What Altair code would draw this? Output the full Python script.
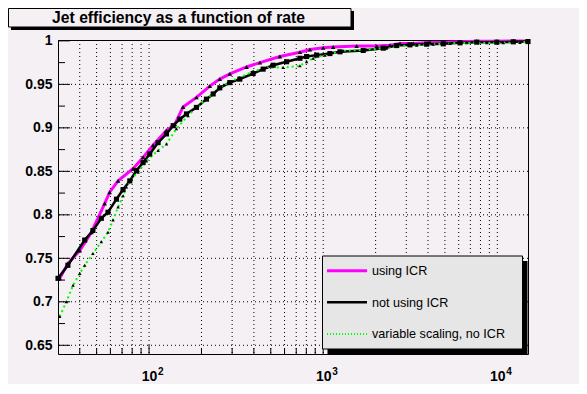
import altair as alt
import pandas as pd

FONT = "Liberation Sans"
BG = "#F4F0F4"
TITLE = "Jet efficiency as a function of rate"

# ---- data ----
x_icr = [30.7, 34.2, 40.0, 46.7, 55.6, 59.4, 66.4, 80.9, 92.4, 105.4, 125.9, 140.5, 156.8,
         187.1, 223.2, 254.8, 291, 363, 433, 564, 735, 839, 1000, 1141, 1556, 2028, 2418,
         2761, 3291, 4103, 4893, 6104, 7617, 9930, 12360, 15000]
eff_icr = [0.727, 0.744, 0.759, 0.780, 0.813, 0.826, 0.839, 0.853, 0.866, 0.880, 0.897, 0.904,
           0.924, 0.935, 0.948, 0.956, 0.962, 0.970, 0.975, 0.982, 0.987, 0.990, 0.992, 0.993,
           0.994, 0.994, 0.995, 0.997, 0.997, 0.998, 0.998, 0.999, 0.9995, 0.9997, 0.9998, 0.9999]

x_noicr = [30.0, 34.2, 42.7, 47.6, 53.2, 58.1, 65.0, 70.9, 77.5, 84.7, 92.4, 100.9, 112.7,
           125.9, 137.5, 150.1, 164.0, 187.1, 213.6, 233.4, 254.8, 291, 332, 396, 452, 516,
           616, 735, 803, 917, 1093, 1248, 1698, 2213, 2642, 3148, 3927, 4893, 6104, 7617,
           9930, 12360, 15000]
eff_noicr = [0.727, 0.742, 0.771, 0.782, 0.796, 0.803, 0.818, 0.829, 0.839, 0.851, 0.860,
             0.870, 0.883, 0.893, 0.9025, 0.910, 0.916, 0.9235, 0.933, 0.939, 0.946, 0.952,
             0.956, 0.9625, 0.9675, 0.972, 0.976, 0.980, 0.982, 0.9836, 0.9854, 0.9874,
             0.989, 0.9916, 0.9946, 0.9954, 0.9962, 0.9966, 0.9977, 0.9985, 0.9985, 0.9989,
             0.9992]

x_var = [30.7, 33.5, 36.6, 40.0, 42.7, 47.6, 53.2, 58.1, 62.1, 66.4, 70.9, 74.1, 79.2, 86.5,
         96.6, 112.7, 125.9, 143.6, 167.5, 187.1, 213.6, 249.5, 284.6, 332, 396, 473, 589,
         735, 803, 876, 1024, 1303, 1775, 2311, 2642, 3443, 4285, 5346, 6668, 8690, 10810,
         13490, 15000]
eff_var = [0.683, 0.700, 0.719, 0.7325, 0.742, 0.7554, 0.769, 0.780, 0.794, 0.809, 0.822,
           0.832, 0.841, 0.849, 0.862, 0.874, 0.8815, 0.899, 0.914, 0.9235, 0.933, 0.9446,
           0.952, 0.958, 0.965, 0.9694, 0.9694, 0.9713, 0.976, 0.980, 0.9836, 0.9885, 0.990,
           0.9916, 0.994, 0.995, 0.996, 0.997, 0.9977, 0.9977, 0.9977, 0.998, 0.999]

legend_labels = ["using ICR", "not using ICR", "variable scaling, no ICR"]
legend_colors = ["#FF00FF", "#000000", "#00FF00"]

x_decades = [100, 1000, 10000]
x_exponents = ["2", "3", "4"]
x_minor = [40, 50, 60, 70, 80, 90, 200, 300, 400, 500, 600, 700, 800, 900,
           2000, 3000, 4000, 5000, 6000, 7000, 8000, 9000]
y_major = [0.65, 0.7, 0.75, 0.8, 0.85, 0.9, 0.95, 1.0]
y_minor = [0.675, 0.725, 0.775, 0.825, 0.875, 0.925, 0.975]
y_grid = [0.65, 0.7, 0.75, 0.8, 0.85, 0.9, 0.95]

# ---- layout ----
W, H = 470, 314
X_DOM = [30, 15000]
Y_DOM = [0.64, 1.001]

x_scale = alt.Scale(type="log", domain=X_DOM, nice=False)
y_scale = alt.Scale(domain=Y_DOM, nice=False, zero=False)

x_axis = alt.Axis(values=x_decades, labelExpr="'10'", ticks=False, grid=False, domain=False,
                  title=None, labelPadding=15, labelFont=FONT, labelFontWeight="bold",
                  labelFontSize=14, labelColor="black", labelFlush=False)
y_axis = alt.Axis(values=y_major, format=".2~f", ticks=False, grid=False, domain=False,
                  title=None, labelPadding=6, labelFont=FONT, labelFontWeight="bold",
                  labelFontSize=14, labelColor="black", labelFlush=False)

X = alt.X("x:Q", scale=x_scale, axis=x_axis)
Y = alt.Y("y:Q", scale=y_scale, axis=y_axis)

one = alt.InlineData(values=[{"k": 1}])

# grid
vgrid = alt.Chart(pd.DataFrame({"x": x_minor + x_decades})).mark_rule(
    color="black", strokeWidth=1, strokeDash=[1, 3]).encode(x=X)
hgrid = alt.Chart(pd.DataFrame({"y": y_grid})).mark_rule(
    color="black", strokeWidth=1, strokeDash=[1, 3]).encode(y=Y)

# ticks (inward)
ytick_major = alt.Chart(pd.DataFrame({"y": y_major})).mark_rule(color="black").encode(
    y=Y, x=alt.value(0), x2=alt.value(12))
ytick_minor = alt.Chart(pd.DataFrame({"y": y_minor})).mark_rule(color="black").encode(
    y=Y, x=alt.value(0), x2=alt.value(7))
xtick_major = alt.Chart(pd.DataFrame({"x": x_decades})).mark_rule(color="black").encode(
    x=X, y=alt.value(H), y2=alt.value(H - 9))
xtick_minor = alt.Chart(pd.DataFrame({"x": x_minor})).mark_rule(color="black").encode(
    x=X, y=alt.value(H), y2=alt.value(H - 6))

exps = alt.Chart(pd.DataFrame({"x": x_decades, "e": x_exponents})).mark_text(
    font=FONT, fontWeight="bold", fontSize=10, color="black", align="left",
    baseline="alphabetic", dx=9).encode(x=X, y=alt.value(H + 21), text="e:N")

# curves
df_icr = pd.DataFrame({"x": x_icr, "y": eff_icr})
df_no = pd.DataFrame({"x": x_noicr, "y": eff_noicr})
df_var = pd.DataFrame({"x": x_var, "y": eff_var})

line_icr = alt.Chart(df_icr).mark_line(color=legend_colors[0], strokeWidth=3).encode(x=X, y=Y)
line_no = alt.Chart(df_no).mark_line(color=legend_colors[1], strokeWidth=2.5).encode(x=X, y=Y)
line_var = alt.Chart(df_var).mark_line(color=legend_colors[2], strokeWidth=2,
                                       strokeDash=[2, 3]).encode(x=X, y=Y)

pts_icr = alt.Chart(df_icr).mark_point(shape="triangle-up", filled=True, color="black",
                                       size=20, opacity=1).encode(x=X, y=Y)
pts_no = alt.Chart(df_no).mark_point(shape="square", filled=True, color="black",
                                     size=26, opacity=1).encode(x=X, y=Y)
pts_var = alt.Chart(df_var).mark_point(shape="triangle-up", filled=True, color="black",
                                       size=12, opacity=1).encode(x=X, y=Y)

# title box (ROOT style pave with shadow)
PL = 58  # plot left in page px
PT = 40  # plot top in page px
t_shadow = alt.Chart(one).mark_rect(color="black").encode(
    x=alt.value(8 - PL + 3), x2=alt.value(351 - PL + 3),
    y=alt.value(8 - PT + 3), y2=alt.value(27 - PT + 3))
t_box = alt.Chart(one).mark_rect(fill=BG, stroke="black", strokeWidth=1).encode(
    x=alt.value(8.5 - PL), x2=alt.value(351 - PL),
    y=alt.value(8.5 - PT), y2=alt.value(27 - PT))
t_text = alt.Chart(one).mark_text(font=FONT, fontWeight="bold", fontSize=15.7, color="black",
                                  align="center", baseline="alphabetic").encode(
    x=alt.value(178.5 - PL), y=alt.value(23 - PT), text=alt.value(TITLE))

# legend box
LX0, LX1, LY0, LY1 = 322.5 - PL, 522.5 - PL, 256 - PT, 349 - PT
l_shadow = alt.Chart(one).mark_rect(color="black").encode(
    x=alt.value(LX0 + 5), x2=alt.value(LX1 + 5), y=alt.value(LY0 + 5), y2=alt.value(LY1 + 5))
l_box = alt.Chart(one).mark_rect(fill="#E6E6E6", stroke="black", strokeWidth=1).encode(
    x=alt.value(LX0), x2=alt.value(LX1), y=alt.value(LY0), y2=alt.value(LY1))

legend_layers = []
widths = [3, 2.5, 2]
dashes = [None, None, [1, 2]]
for i, (lab, col) in enumerate(zip(legend_labels, legend_colors)):
    yy = 230.7 + 31.6 * i
    kw = dict(color=col, strokeWidth=widths[i])
    if dashes[i] is not None:
        kw["strokeDash"] = dashes[i]
    legend_layers.append(alt.Chart(one).mark_rule(**kw).encode(
        x=alt.value(327 - PL), x2=alt.value(367 - PL), y=alt.value(yy)))
    legend_layers.append(alt.Chart(one).mark_text(
        font=FONT, fontSize=12.6, color="black", align="left", baseline="middle").encode(
        x=alt.value(372 - PL), y=alt.value(yy + 0.5), text=alt.value(lab)))

chart = alt.layer(
    vgrid, hgrid, ytick_major, ytick_minor, xtick_major, xtick_minor, exps,
    line_icr, line_no, line_var, pts_no, pts_icr, pts_var,
    t_shadow, t_box, t_text, l_shadow, l_box, *legend_layers
).properties(
    width=W, height=H,
    autosize=alt.AutoSizeParams(type="none"),
    padding={"left": 50, "top": 32, "right": 51, "bottom": 30},
    background=BG,
).configure_view(stroke="black", strokeWidth=1)

chart.save("out.html", embed_options={"renderer": "svg", "actions": False})
